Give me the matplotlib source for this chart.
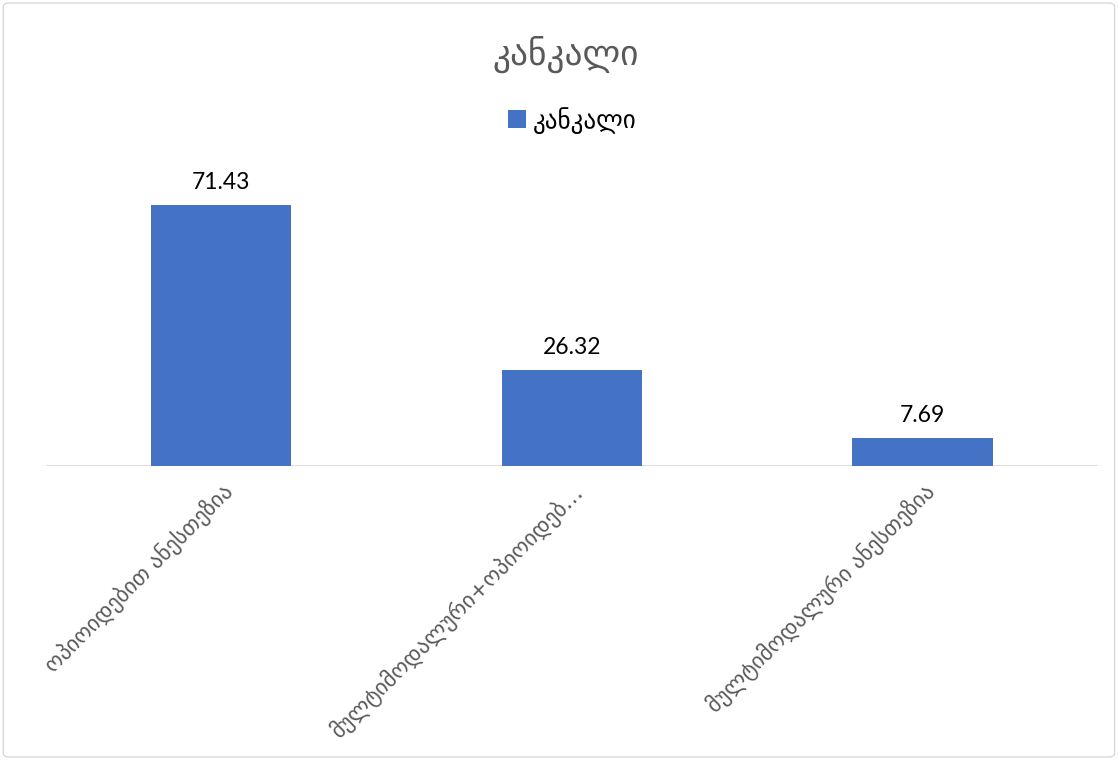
import numpy as np
import matplotlib.pyplot as plt
from matplotlib.patches import FancyBboxPatch

# data
categories = ['ოპიოიდებით ანესთეზია', 'მულტიმოდალური+ოპიოიდებ…', 'მულტიმოდალური ანესთეზია']
values = [71.43, 26.32, 7.69]
series_name = 'კანკალი'
title = 'კანკალი'

plt.rcParams['font.family'] = ['Lato', 'DejaVu Sans']

fig = plt.figure(figsize=(11.18, 7.6), dpi=100)
ax = fig.add_axes([0.041, 0.387, 0.941, 0.384])

x = np.arange(len(categories))
bars = ax.bar(x, values, width=0.4, color='#4472C4', label=series_name, zorder=2)
for xi, v in zip(x, values):
    ax.text(xi, v + 3.3, f'{v:.2f}', ha='center', va='bottom', fontsize=16.5, color='#000000')

ax.set_xlim(-0.5, len(categories) - 0.5)
ax.set_ylim(0, 80)
ax.axhline(0, color='#d9d9d9', lw=1.2, zorder=1)
for s in ax.spines.values():
    s.set_visible(False)
ax.set_yticks([])
ax.set_xticks(x)
ax.set_xticklabels(categories, rotation=45, ha='right', rotation_mode='anchor',
                   fontsize=16, color='#595959', family=['DejaVu Sans'])
ax.tick_params(axis='x', length=0, pad=10)

fig.text(0.506, 0.928, title, ha='center', va='center', fontsize=25.5, color='#595959',
         family=['DejaVu Sans'])
leg = fig.legend(loc='center', bbox_to_anchor=(0.512, 0.842), frameon=False,
                 handlelength=0.7, handleheight=0.7, handletextpad=0.3,
                 prop={'family': ['DejaVu Sans'], 'size': 18})

border = FancyBboxPatch((0.003, 0.004), 0.994, 0.992, boxstyle='round,pad=0,rounding_size=0.005',
                        transform=fig.transFigure, fill=False, edgecolor='#d9d9d9', lw=1)
fig.patches.append(border)

fig.savefig('out.png', dpi=100)
